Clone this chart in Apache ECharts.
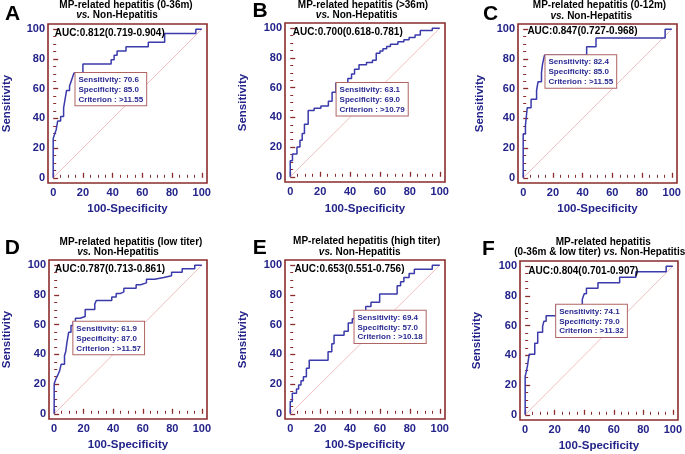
<!DOCTYPE html>
<html><head><meta charset="utf-8">
<script src="https://cdn.jsdelivr.net/npm/echarts@6/dist/echarts.min.js"></script>
<style>html,body{margin:0;padding:0;background:#fff}#c{width:685px;height:454px}</style>
</head><body><div id="c"></div>
<script>
// ---------------- data ----------------
const panelLetters = ['A', 'B', 'C', 'D', 'E', 'F'];
const titleLine1 = ['MP-related hepatitis (0-36m)', 'MP-related hepatitis (>36m)', 'MP-related hepatitis (0-12m)',
  'MP-related hepatitis (low titer)', 'MP-related hepatitis (high titer)', 'MP-related hepatitis'];
const titleLine2 = ['vs. Non-Hepatitis', 'vs. Non-Hepatitis', 'vs. Non-Hepatitis',
  'vs. Non-Hepatitis', 'vs. Non-Hepatitis', '(0-36m & low titer) vs. Non-Hepatitis'];
const aucText = ['AUC:0.812(0.719-0.904)', 'AUC:0.700(0.618-0.781)', 'AUC:0.847(0.727-0.968)',
  'AUC:0.787(0.713-0.861)', 'AUC:0.653(0.551-0.756)', 'AUC:0.804(0.701-0.907)'];
const sensitivity = [70.6, 63.1, 82.4, 61.9, 69.4, 74.1];
const specificity = [85.0, 69.0, 85.0, 87.0, 57.0, 79.0];
const criterion = ['>11.55', '>10.79', '>11.55', '>11.57', '>10.18', '>11.32'];
const tickValues = [0, 20, 40, 60, 80, 100];
const minorTickValues = [5, 10, 15, 25, 30, 35, 45, 50, 55, 65, 70, 75, 85, 90, 95];
const xAxisName = '100-Specificity';
const yAxisName = 'Sensitivity';
const diagonalX = [0, 100];
const diagonalY = [0, 100];

// ROC staircase vertices (100-Specificity, Sensitivity)
const fprA = [0, 0, 1, 2, 3, 5, 7, 8, 9, 11, 12, 13, 14, 20, 39, 41, 43, 49, 64, 75, 96, 100];
const tprA = [0, 26.5, 29.4, 32.4, 38.2, 41.2, 47.1, 52.9, 58.8, 61.8, 64.7, 67.6, 70.6, 76.5, 79.4, 82.4, 85.3, 88.2, 91.2, 97.1, 100, 100];
const fprB = [0, 0, 1.5, 4.5, 6.5, 8, 9.5, 12, 16, 20.5, 25.5, 28, 30.5, 38.5, 41, 43, 46, 51, 55, 57.5, 60, 62, 64.5, 67, 72, 76, 79.5, 83.5, 87, 95, 100];
const tprB = [0, 10.8, 15.4, 20, 24.6, 29.2, 35.4, 44.6, 46.2, 47.7, 50.8, 56.9, 63.1, 66.2, 69.2, 72.3, 75.4, 76.9, 78.5, 83.1, 84.6, 86.2, 87.7, 89.2, 90.8, 92.3, 93.8, 95.4, 98.5, 100, 100];
const fprC = [0, 0, 1.5, 2.7, 5.3, 9, 10, 12.3, 13, 14.3, 42.7, 49, 95.5, 100];
const tprC = [0, 29.4, 35.3, 47.1, 52.9, 58.8, 64.7, 70.6, 76.5, 82.4, 88.2, 94.1, 100, 100];
const fprD = [0, 0, 1.3, 2.5, 3.6, 4.7, 7, 7.8, 8.6, 9.8, 11.4, 12.9, 14.4, 17.6, 21, 27.5, 28.5, 39, 42, 45, 47.2, 55.5, 58.5, 62.5, 68, 74.2, 79.5, 86.7, 95.2, 100];
const tprD = [0, 20.2, 23.8, 26.2, 28.6, 33.3, 39.3, 41.7, 47.6, 54.8, 59.5, 61.9, 64.3, 65.5, 70.2, 73.8, 76.2, 78.6, 81, 82.1, 84.5, 86.9, 88.1, 90.5, 91.7, 92.9, 95.2, 97.6, 100, 100];
const fprE = [0, 0, 1.4, 4.2, 5.6, 7.2, 8.8, 10.8, 12.7, 25.3, 27.8, 29.3, 36, 38.8, 41.5, 43, 50.5, 54, 59.8, 71.5, 73.8, 76, 79.5, 83, 95, 100];
const tprE = [0, 8.3, 13.9, 16.7, 19.4, 22.2, 25, 30.6, 36.1, 41.7, 47.2, 52.8, 55.6, 61.1, 63.9, 69.4, 72.2, 75, 80.6, 86.1, 88.9, 91.7, 94.4, 97.2, 100, 100];
const fprF = [0, 0, 0.9, 1.6, 2.7, 6.5, 8.5, 11.8, 12.7, 14.2, 21, 38.7, 40, 41.5, 49.3, 64, 75, 95.5, 100];
const tprF = [0, 25.9, 29.6, 33.3, 40.7, 48.1, 55.6, 59.3, 63, 66.7, 74.1, 77.8, 81.5, 85.2, 88.9, 92.6, 96.3, 100, 100];
const rocFpr = [fprA, fprB, fprC, fprD, fprE, fprF];
const rocTpr = [tprA, tprB, tprC, tprD, tprE, tprF];

// ---------------- layout / style ----------------
const FONT = '"Liberation Sans", Arial, Helvetica, sans-serif';
const BOX = '#8b2c2c';
const AXISTXT = '#23238a';
const CURVE = '#3a3aab';
const INFO = '#2a2a92';
const INFOBORDER = '#b06464';
const DIAG = '#eaa4a4';

const layout = [
  {grid: {left: 48, top: 24, width: 159, height: 159}, t1: [126, 5.7], t2: [117, 15.7], letter: [12.5, 14.2], auc: [6.7, 9.3], yGap: 35, xGap: 20},
  {grid: {left: 285, top: 23, width: 160, height: 159}, t1: [363, 5.2], t2: [356.7, 15.7], letter: [260, 11.7], auc: [7.7, 9], yGap: 36, xGap: 21},
  {grid: {left: 518, top: 24, width: 159, height: 159}, t1: [599.5, 5.7], t2: [591.3, 16.5], letter: [490.5, 14.2], auc: [9.4, 7.7], yGap: 32, xGap: 20},
  {grid: {left: 49, top: 260, width: 158, height: 159}, t1: [131, 242], t2: [118, 252], letter: [12.3, 247.8], auc: [6, 9], yGap: 36, xGap: 20},
  {grid: {left: 285, top: 260, width: 160, height: 159}, t1: [366.7, 241], t2: [359.7, 252], letter: [259.7, 247.8], auc: [9.4, 9], yGap: 36, xGap: 20},
  {grid: {left: 520, top: 261, width: 158, height: 159}, t1: [603.3, 242], t2: [599.7, 252], letter: [488.3, 249.2], auc: [8.3, 10.3], yGap: 37, xGap: 20}
];

const grids = [], xAxes = [], yAxes = [], series = [], graphics = [];

function richLine2(s) {
  const parts = s.split('vs.');
  let out = '';
  if (parts[0]) out += '{b|' + parts[0] + '}';
  out += '{i|vs.}';
  if (parts[1]) out += '{b|' + parts[1] + '}';
  return out;
}

layout.forEach((p, i) => {
  grids.push(Object.assign({show: true, borderColor: BOX, borderWidth: 1.6, backgroundColor: 'rgba(0,0,0,0)', containLabel: false}, p.grid));
  const base = {type: 'value', min: -3.5, max: 103.5, gridIndex: i, splitLine: {show: false}, axisLine: {show: false}};
  const labelStyle = {color: AXISTXT, fontWeight: 'bold', fontSize: 11, fontFamily: FONT};
  const nameStyle = {color: AXISTXT, fontWeight: 'bold', fontSize: 11.5, fontFamily: FONT};
  xAxes.push(Object.assign({}, base, {
    position: 'bottom', name: xAxisName, nameLocation: 'middle', nameGap: p.xGap, nameTextStyle: nameStyle,
    axisTick: {show: true, inside: true, length: 5, customValues: tickValues, lineStyle: {color: BOX, width: 1.3}},
    axisLabel: Object.assign({show: true, customValues: tickValues, margin: 4}, labelStyle)
  }));
  xAxes.push(Object.assign({}, base, {
    position: 'bottom',
    axisTick: {show: true, inside: true, length: 3, customValues: minorTickValues, lineStyle: {color: BOX, width: 1}},
    axisLabel: {show: false}
  }));
  yAxes.push(Object.assign({}, base, {
    position: 'left', name: yAxisName, nameLocation: 'middle', nameGap: p.yGap, nameTextStyle: nameStyle,
    axisTick: {show: true, inside: true, length: 5, customValues: tickValues, lineStyle: {color: BOX, width: 1.3}},
    axisLabel: Object.assign({show: true, customValues: tickValues, margin: 3}, labelStyle)
  }));
  yAxes.push(Object.assign({}, base, {
    position: 'left',
    axisTick: {show: true, inside: true, length: 3, customValues: minorTickValues, lineStyle: {color: BOX, width: 1}},
    axisLabel: {show: false}
  }));
  const xi = 2 * i, yi = 2 * i;
  series.push({
    type: 'line', xAxisIndex: xi, yAxisIndex: yi, silent: true, symbol: 'none', z: 2,
    data: diagonalX.map((x, k) => [x, diagonalY[k]]),
    lineStyle: {color: DIAG, width: 0.7}
  });
  series.push({
    type: 'line', xAxisIndex: xi, yAxisIndex: yi, step: 'end', symbol: 'none', z: 3,
    data: rocFpr[i].map((x, k) => [x, rocTpr[i][k]]),
    lineStyle: {color: CURVE, width: 1.5}
  });
  const infoTxt = 'Sensitivity: ' + sensitivity[i].toFixed(1) + '\nSpecificity: ' + specificity[i].toFixed(1) + '\nCriterion : ' + criterion[i];
  series.push({
    type: 'custom', xAxisIndex: xi, yAxisIndex: yi, z: 5, silent: true, clip: false,
    data: [[100 - specificity[i], sensitivity[i]]],
    renderItem: (params, api) => {
      const pt = api.coord([api.value(0), api.value(1)]);
      const cs = params.coordSys;
      return {
        type: 'group',
        children: [
          {type: 'text', x: cs.x + p.auc[0], y: cs.y + p.auc[1], z2: 10,
            style: {text: aucText[i], fill: '#000', font: 'bold 10px ' + FONT, align: 'left', verticalAlign: 'middle'}},
          {type: 'text', x: pt[0], y: pt[1], z2: 20,
            style: {text: infoTxt, fill: INFO, font: 'bold 8px ' + FONT, backgroundColor: '#fff',
              borderColor: INFOBORDER, borderWidth: 1, padding: [2, 3, 1, 3], lineHeight: 9.8,
              align: 'left', verticalAlign: 'top'}}
        ]
      };
    }
  });
  // titles and letters
  graphics.push({type: 'text', x: p.t1[0], y: p.t1[1], silent: true,
    style: {text: titleLine1[i], fill: '#000', font: 'bold 10px ' + FONT, align: 'center', verticalAlign: 'middle'}});
  graphics.push({type: 'text', x: p.t2[0], y: p.t2[1], silent: true,
    style: {text: richLine2(titleLine2[i]), align: 'center', verticalAlign: 'middle',
      rich: {
        b: {fill: '#000', fontWeight: 'bold', fontSize: 10, fontFamily: FONT},
        i: {fill: '#000', fontWeight: 'bold', fontStyle: 'italic', fontSize: 10, fontFamily: FONT}
      }}});
  graphics.push({type: 'text', x: p.letter[0], y: p.letter[1], silent: true,
    style: {text: panelLetters[i], fill: '#000', font: 'bold 21px ' + FONT, align: 'center', verticalAlign: 'middle'}});
});

const chart = echarts.init(document.getElementById('c'), null, {renderer: 'canvas'});
chart.setOption({
  animation: false,
  backgroundColor: '#fff',
  grid: grids,
  xAxis: xAxes,
  yAxis: yAxes,
  series: series,
  graphic: graphics
});
</script>
</body></html>
